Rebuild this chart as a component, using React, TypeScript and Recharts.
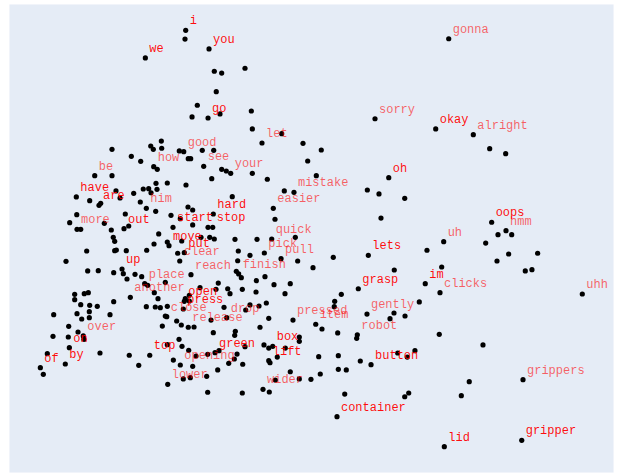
import React from "react";
import { ScatterChart, Scatter, XAxis, YAxis, CartesianGrid } from "recharts";

// Labelled words (embedding coordinates)
const labelWords = [
  "i", "you", "we", "go", "let", "good", "how", "see", "your", "be",
  "have", "are", "him", "hard", "mistake", "easier", "more", "out", "start", "stop",
  "quick", "move", "put", "clear", "pick", "pull", "up", "reach", "finish", "place",
  "another", "open", "press", "close", "drop", "release", "pressed", "item", "over", "on",
  "box", "top", "green", "lift", "of", "by", "opening", "lower", "wider", "sorry",
  "okay", "alright", "oh", "gonna", "oops", "hmm", "uh", "lets", "im", "clicks",
  "grasp", "uhh", "gently", "robot", "button", "grippers", "container", "lid", "gripper",
];
const labelX = [
  1.954, 2.282, 1.386, 2.268, 3.027, 1.926, 1.504, 2.207, 2.587, 0.674,
  0.415, 0.734, 1.4, 2.342, 3.477, 3.186, 0.425, 1.086, 1.775, 2.334,
  3.164, 1.719, 1.934, 1.87, 3.06, 3.295, 1.058, 2.028, 2.699, 1.377,
  1.175, 1.934, 1.92, 1.687, 2.531, 1.99, 3.463, 3.783, 0.513, 0.317,
  3.178, 1.448, 2.366, 3.122, -0.091, 0.26, 1.878, 1.701, 3.041, 4.617,
  5.471, 6.0, 4.81, 5.654, 6.258, 6.46, 5.583, 4.523, 5.324, 5.531,
  4.382, 7.533, 4.504, 4.368, 4.561, 6.699, 4.082, 5.592, 6.681,
];
const labelY = [
  3.074, 2.819, 2.696, 1.875, 1.533, 1.414, 1.209, 1.214, 1.119, 1.086,
  0.795, 0.681, 0.64, 0.562, 0.859, 0.64, 0.353, 0.361, 0.38, 0.38,
  0.22, 0.129, 0.033, -0.081, 0.029, -0.049, -0.19, -0.268, -0.258, -0.391,
  -0.577, -0.632, -0.737, -0.842, -0.856, -0.987, -0.888, -0.946, -1.106, -1.266,
  -1.247, -1.37, -1.335, -1.444, -1.54, -1.489, -1.503, -1.767, -1.835, 1.865,
  1.725, 1.647, 1.059, 2.959, 0.449, 0.334, 0.183, -0.003, -0.391, -0.514,
  -0.46, -0.532, -0.806, -1.089, -1.499, -1.704, -2.21, -2.62, -2.533,
];
const strongWords = [
  "i", "we", "you", "go", "have", "are", "hard", "out", "start", "stop", "move", "put",
  "up", "open", "press", "on", "of", "by", "top", "green", "box", "lift", "oh", "okay",
  "oops", "im", "grasp", "lets", "button", "container", "gripper", "lid",
];

// Unlabelled words, by region
const upperCluster: [number, number][] = [
  [1.944, 2.955], [2.356, 2.514], [2.46, 2.49], [2.788, 2.555], [2.384, 2.235],
  [2.117, 2.049], [2.043, 1.889], [2.436, 1.93], [2.877, 1.971], [2.891, 1.725],
  [3.304, 1.66], [3.604, 1.529], [3.67, 1.287], [1.611, 1.56], [1.462, 1.492],
  [1.498, 1.447], [1.616, 1.461], [0.917, 1.447], [1.864, 1.424], [2.187, 1.433],
  [2.348, 1.433], [1.189, 1.351], [1.321, 1.283], [1.99, 1.318], [2.024, 1.318],
  [1.554, 1.173], [2.46, 1.173], [2.525, 1.15], [2.891, 1.119], [2.32, 1.045],
  [3.102, 1.037], [0.917, 1.086], [1.536, 0.982], [1.695, 0.986], [1.958, 0.959],
  [0.973, 0.877], [1.357, 0.904], [1.433, 0.908], [1.466, 0.853], [1.55, 0.9],
  [1.222, 0.845], [1.03, 0.781], [0.603, 0.744], [0.758, 0.708], [1.315, 0.726],
  [1.532, 0.599], [2.609, 0.799], [3.341, 0.877], [3.21, 0.49], [0.421, 0.553],
  [0.322, 0.443], [0.477, 0.353], [0.809, 0.435], [0.907, 0.343], [1.104, 0.562],
  [1.152, 0.398], [1.747, 0.544], [1.878, 0.498], [1.986, 0.658], [2.052, 0.617],
  [2.052, 0.412], [2.268, 0.38], [1.574, 0.289], [3.496, 0.243], [0.935, 0.243],
  [2.169, 0.243], [2.292, 0.243], [2.356, 0.22], [2.647, 0.216], [2.957, 0.216],
];
const middleCluster: [number, number][] = [
  [0.955, 0.189], [1.508, 0.152], [1.695, 0.179], [1.898, 0.193], [0.561, 0.056],
  [0.955, 0.06], [0.978, 0.07], [1.118, 0.06], [1.405, 0.066], [1.841, 0.025],
  [2.694, 0.056], [2.858, -0.003], [3.529, -0.081], [0.27, -0.085], [2.685, -0.077],
  [0.575, -0.217], [0.724, -0.213], [0.941, -0.241], [1.076, -0.254], [1.128, -0.327],
  [1.241, -0.263], [1.335, -0.295], [1.667, -0.372], [2.666, -0.222], [2.736, -0.309],
  [2.947, -0.35], [3.069, -0.295], [3.196, -0.405], [3.425, -0.391], [3.351, -0.528],
  [1.419, -0.413], [1.512, -0.514], [2.155, -0.446], [2.412, -0.382], [2.38, -0.468],
  [2.545, -0.46], [2.577, -0.528], [2.75, -0.468], [2.943, -0.505], [0.392, -0.536],
  [0.527, -0.528], [0.584, -0.514], [0.392, -0.61], [1.564, -0.596], [2.005, -0.55],
  [1.948, -0.596], [2.005, -0.628], [0.941, -0.637], [0.477, -0.678], [0.603, -0.687],
  [0.71, -0.7], [1.4, -0.706], [1.526, -0.71], [1.597, -0.719], [1.695, -0.7],
  [2.493, -0.714], [2.798, -0.751], [2.858, -0.682], [2.985, -0.696], [3.088, -0.655],
  [0.598, -0.774], [0.425, -0.801], [0.097, -0.815], [0.889, -0.815], [0.491, -0.874],
  [0.598, -0.856], [1.667, -0.833], [1.827, -0.901], [1.892, -0.956], [2.071, -0.983],
  [2.31, -0.888], [3.122, -0.864], [1.625, -0.97], [2.999, -0.987],
];
const lowerCluster: [number, number][] = [
  [0.308, -0.974], [0.439, -1.052], [0.087, -1.111], [0.302, -1.12], [0.523, -1.152],
  [2.342, -1.061], [2.652, -1.042], [2.643, -1.097], [1.86, -1.152], [1.695, -1.225],
  [1.902, -1.247], [1.996, -1.302], [2.422, -1.307], [2.788, -1.253], [3.055, -1.229],
  [3.122, -1.271], [3.355, -1.271], [3.552, -1.12], [3.552, -1.179], [0.007, -1.348],
  [0.748, -1.339], [1.16, -1.37], [1.293, -1.507], [2.099, -1.38], [2.263, -1.357],
  [2.676, -1.353], [2.638, -1.421], [2.559, -1.48], [2.756, -1.493], [1.78, -1.435],
  [2.052, -1.521], [2.404, -1.571], [3.14, -1.472], [3.242, -1.394], [-0.049, -1.63],
  [1.92, -1.694], [2.019, -1.677], [2.249, -1.658], [3.425, -1.595], [3.552, -1.694],
  [3.214, -1.708], [2.263, -1.876], [2.75, -1.886], [3.13, -1.872],
];
const rightCluster: [number, number][] = [
  [6.23, 1.455], [6.455, 1.387], [3.861, 1.437], [3.791, 1.086], [4.509, 0.89],
  [4.673, 0.836], [5.035, 0.777], [4.701, 0.507], [6.347, 0.279], [6.54, 0.279],
  [6.174, 0.165], [5.348, 0.066], [6.497, 0.015], [6.905, 0.025], [6.333, -0.081],
  [6.731, -0.217], [6.825, -0.2], [4.03, -0.03], [3.745, -0.172], [4.888, -0.204],
  [5.555, -0.163], [4.143, -0.536], [4.05, -0.632], [4.044, -0.706], [5.24, -0.641],
  [4.884, -0.792], [5.039, -0.833], [4.828, -0.87], [3.871, -1.011], [4.092, -1.065],
  [4.359, -1.138], [5.521, -1.083], [6.136, -1.229], [5.071, -1.394], [5.179, -1.307],
  [4.936, -1.339], [3.825, -1.389], [4.101, -1.376], [4.41, -1.448], [4.101, -1.562],
  [4.213, -1.571], [3.847, -1.626], [3.716, -1.699], [5.943, -1.731], [4.191, -1.9],
  [5.035, -1.937], [5.091, -1.886], [5.831, -1.923],
];

const xTicks = [0, 1, 2, 3, 4, 5, 6, 7];
const yTicks = [-2, -1, 0, 1, 2, 3];
const xDomain: [number, number] = [-0.532, 7.979];
const yDomain: [number, number] = [-2.98, 3.434];

const labelled = labelWords.map((w, i) => ({ x: labelX[i], y: labelY[i], word: w }));
const unlabelled = [...upperCluster, ...middleCluster, ...lowerCluster, ...rightCluster].map(
  ([x, y]) => ({ x, y, word: "" })
);
const allPoints = [...unlabelled, ...labelled];

const Dot = (props: any) => {
  const { cx, cy } = props;
  if (cx == null || cy == null) return null;
  return <circle cx={cx} cy={cy} r={2.6} fill="#000" />;
};

const WordLabel = (props: any) => {
  const { cx, cy, payload } = props;
  if (cx == null || cy == null) return null;
  const strong = strongWords.includes(payload.word);
  return (
    <text
      x={cx + 4}
      y={cy - 6}
      textAnchor="start"
      fontFamily="'Courier New', 'Liberation Mono', monospace"
      fontSize={12}
      fill="#ff0000"
      fillOpacity={strong ? 0.95 : 0.6}
    >
      {payload.word}
    </text>
  );
};

export default function App() {
  return (
    <div style={{ position: "absolute", left: 0, top: 0, width: 617, height: 473 }}>
      <ScatterChart
        width={617}
        height={473}
        margin={{ top: 4, left: 9, right: 3, bottom: 0 }}
      >
        <CartesianGrid fill="#E5ECF6" stroke="#ffffff" strokeWidth={1} strokeOpacity={0.9} />
        <XAxis
          type="number"
          dataKey="x"
          domain={xDomain}
          ticks={xTicks}
          allowDataOverflow
          height={0}
          tick={false}
          axisLine={false}
          tickLine={false}
        />
        <YAxis
          type="number"
          dataKey="y"
          domain={yDomain}
          ticks={yTicks}
          allowDataOverflow
          width={0}
          tick={false}
          axisLine={false}
          tickLine={false}
        />
        <Scatter data={allPoints} shape={Dot} isAnimationActive={false} />
        <Scatter data={labelled} shape={WordLabel} isAnimationActive={false} />
      </ScatterChart>
    </div>
  );
}
